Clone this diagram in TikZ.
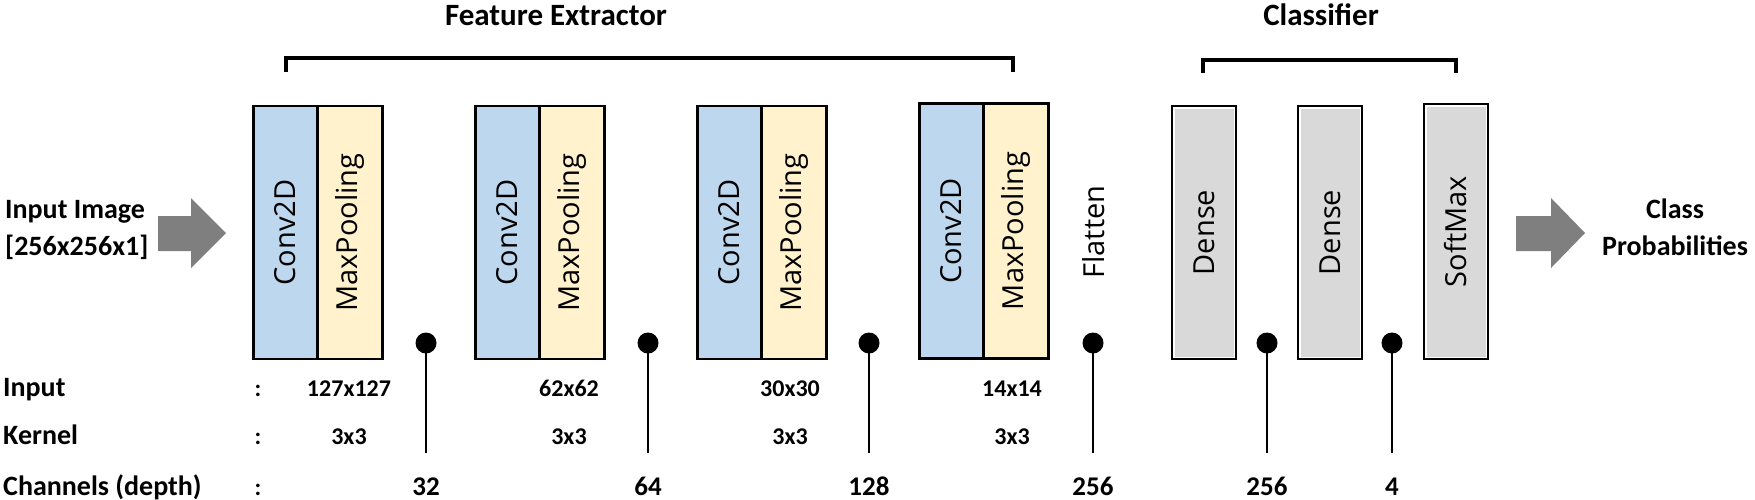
\documentclass[tikz,border=0pt]{standalone}
\usepackage{fontspec}
\setmainfont{Carlito}
\newfontfamily\labfont{Open Sans}
\definecolor{convblue}{HTML}{BDD7EE}
\definecolor{poolyellow}{HTML}{FFF2CC}
\definecolor{densegray}{HTML}{D9D9D9}
\definecolor{arrowgray}{HTML}{7F7F7F}
\tikzset{
  half/.style={draw=black, line width=2.8pt, inner sep=0pt, minimum width=64.5pt, minimum height=253pt},
  convbox/.style={half, fill=convblue},
  poolbox/.style={half, fill=poolyellow},
  densebox/.style={draw=black, line width=2.8pt, fill=densegray, inner sep=0pt, minimum width=64pt, minimum height=253pt},
  blocklabel/.style={rotate=90, inner sep=0pt, font=\labfont\fontsize{29}{34}\selectfont},
  dotn/.style={circle, fill=black, inner sep=0pt, minimum size=21pt},
  stem/.style={line width=2.8pt},
  bracketline/.style={line width=3.8pt},
  title/.style={anchor=base, font=\bfseries\fontsize{31}{36}\selectfont, inner sep=0pt},
  rowlab/.style={anchor=base west, font=\bfseries\fontsize{28}{34}\selectfont, inner sep=0pt},
  val/.style={anchor=base, font=\bfseries\fontsize{24}{28}\selectfont, inner sep=0pt},
  chan/.style={anchor=base, font=\bfseries\fontsize{27}{32}\selectfont, inner sep=0pt},
  side/.style={font=\bfseries\fontsize{28}{34}\selectfont, inner sep=0pt},
  bigarrow/.style={fill=arrowgray, draw=none}
}
\begin{document}
\begin{tikzpicture}[x=1pt,y=-1pt]
\useasboundingbox (0,0) rectangle (1755,499);
% titles and brackets
\node[title] (fe) at (556,25) {Feature Extractor};
\node[title] (cl) at (1321,25) {Classifier};
\draw[bracketline] (286,72) -- (286,58) -- (1013,58) -- (1013,72);
\draw[bracketline] (1203,73) -- (1203,60) -- (1456,60) -- (1456,73);
% input / output text
\node[side, anchor=base west] (in1) at (5,218) {Input Image};
\node[side, anchor=base west] (in2) at (5,255) {[256x256x1]};
\node[side, anchor=base] (out1) at (1675,218) {Class};
\node[side, anchor=base] (out2) at (1675,255) {Probabilities};
% arrows
\fill[bigarrow] (158,216) -- (191,216) -- (191,198) -- (226,233) -- (191,268) -- (191,251) -- (158,251) -- cycle;
\fill[bigarrow] (1516,216) -- (1551,216) -- (1551,198) -- (1585,233) -- (1551,268) -- (1551,251) -- (1516,251) -- cycle;
% conv blocks
\node[convbox] (c1) at (285.5,232.5) {};
\node[poolbox] (m1) at (350,232.5) {};
\node[convbox] (c2) at (507.5,232.5) {};
\node[poolbox] (m2) at (572,232.5) {};
\node[convbox] (c3) at (729.5,232.5) {};
\node[poolbox] (m3) at (794,232.5) {};
\node[convbox, minimum height=255pt] (c4) at (951.5,231) {};
\node[poolbox, minimum height=255pt] (m4) at (1016,231) {};
\foreach \i in {1,2,3,4}{
  \node[blocklabel] (tc\i) at (c\i) {Conv2D};
  \node[blocklabel] (tm\i) at (m\i) {MaxPooling};
}
\node[blocklabel] (flat) at (1094,232) {Flatten};
% classifier blocks
\node[densebox] (d1) at (1204,232.5) {};
\node[densebox] (d2) at (1330,232.5) {};
\node[densebox, minimum height=255pt] (sm) at (1456,231.5) {};
\foreach \n in {d1,d2,sm}{
  \draw[white, line width=1.4pt] ([shift={(3.2,3.2)}]\n.north west) rectangle ([shift={(-3.2,-3.2)}]\n.south east);
}
\node[blocklabel] (td1) at (d1) {Dense};
\node[blocklabel] (td2) at (d2) {Dense};
\node[blocklabel] (tsm) at (sm) {SoftMax};
% dots and stems
\foreach \k/\x/\v in {1/426/32, 2/648/64, 3/869/128, 4/1093/256, 5/1267/256, 6/1392/4}{
  \node[dotn] (p\k) at (\x,343) {};
  \coordinate (q\k) at (\x,453);
  \draw[stem] (p\k.center) -- (q\k);
  \node[chan] (n\k) at (\x,495) {\v};
}
% row labels
\node[rowlab] (rin) at (3,396) {Input};
\node[rowlab] (rk) at (3,444) {Kernel};
\node[rowlab] (rc) at (3,495) {Channels (depth)};
\node[val] (co1) at (258,396) {:};
\node[val] (co2) at (258,444) {:};
\node[val] (co3) at (258,495) {:};
\foreach \k/\x/\s in {1/349/127x127, 2/569/62x62, 3/790/30x30, 4/1012/14x14}{
  \node[val] (s\k) at (\x,396) {\s};
  \node[val] (k\k) at (\x,444) {3x3};
}
\end{tikzpicture}
\end{document}
